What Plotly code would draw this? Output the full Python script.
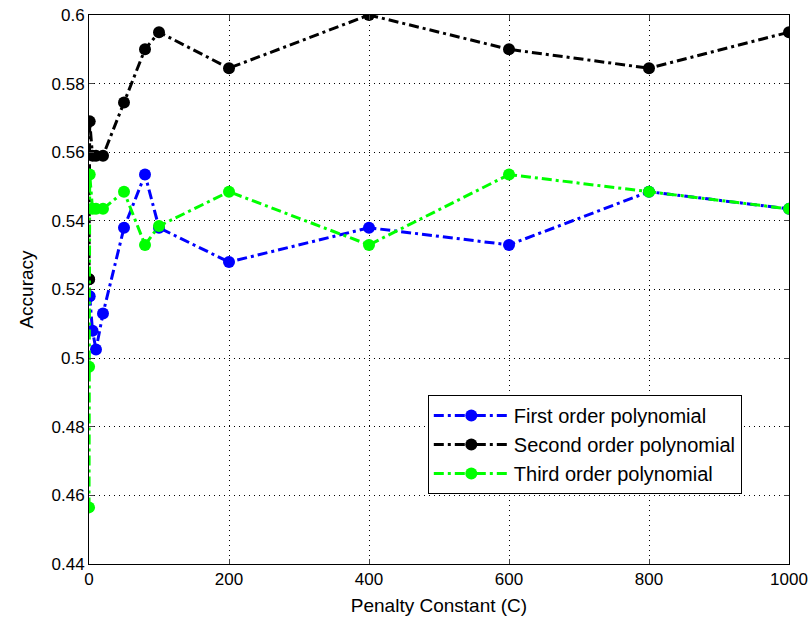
import plotly.graph_objects as go

C = [0.01, 0.1, 1, 5, 10, 20, 50, 80, 100, 200, 400, 600, 800, 1000]
first = [0.518, 0.518, 0.518, 0.508, 0.5025, 0.513, 0.538, 0.5535, 0.538, 0.528, 0.538, 0.533, 0.5485, 0.5435]
second = [0.523, 0.523, 0.569, 0.559, 0.559, 0.559, 0.5745, 0.590, 0.595, 0.5845, 0.600, 0.590, 0.5845, 0.595]
third = [0.4565, 0.4975, 0.5535, 0.5435, 0.5435, 0.5435, 0.5485, 0.533, 0.5385, 0.5485, 0.533, 0.5535, 0.5485, 0.5435]

names = ["First order polynomial", "Second order polynomial", "Third order polynomial"]
colors = ["#0000FF", "#000000", "#00FF00"]
series = [first, second, third]

ytickvals = [0.44, 0.46, 0.48, 0.5, 0.52, 0.54, 0.56, 0.58, 0.6]
yticktext = ["0.44", "0.46", "0.48", "0.5", "0.52", "0.54", "0.56", "0.58", "0.6"]
xtickvals = [0, 200, 400, 600, 800, 1000]

fig = go.Figure()
for n, c, s in zip(names, colors, series):
    fig.add_trace(go.Scatter(
        x=C, y=s, name=n, mode="lines+markers",
        line=dict(color=c, width=3, dash="10px,4px,3px,4px"),
        marker=dict(color=c, size=12, symbol="circle"),
    ))

font = "Liberation Sans, Arial, sans-serif"
fig.update_layout(
    width=812, height=624,
    margin=dict(l=89, r=23, t=15, b=60),
    paper_bgcolor="white", plot_bgcolor="white",
    font=dict(family=font, size=16, color="black"),
    showlegend=True,
    legend=dict(
        x=0.484, y=0.308, xanchor="left", yanchor="top",
        bgcolor="white", bordercolor="black", borderwidth=1,
        font=dict(size=20), tracegroupgap=0, itemwidth=75,
    ),
    xaxis=dict(
        range=[0, 1000], tickvals=xtickvals, ticks="inside", ticklen=5,
        showline=True, linecolor="black", linewidth=1, mirror="ticks",
        showgrid=True, gridcolor="black", griddash="1px,4px", gridwidth=1,
        zeroline=False, title=dict(text="Penalty Constant (C)", standoff=10),
        tickfont=dict(size=17), automargin=False,
    ),
    yaxis=dict(
        range=[0.44, 0.6], tickvals=ytickvals, ticktext=yticktext,
        ticks="inside", ticklen=5,
        showline=True, linecolor="black", linewidth=1, mirror="ticks",
        showgrid=True, gridcolor="black", griddash="1px,4px", gridwidth=1,
        zeroline=False, title=dict(text="Accuracy", standoff=12),
        tickfont=dict(size=17), automargin=False,
    ),
)

fig.write_html("out.html")
